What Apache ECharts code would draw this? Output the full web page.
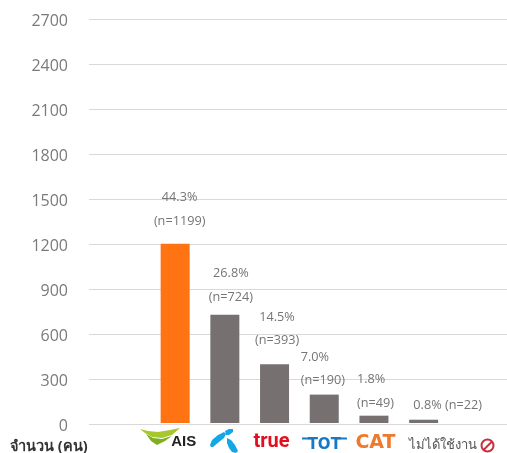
<!DOCTYPE html>
<html><head><meta charset="utf-8">
<style>html,body{margin:0;padding:0;background:#fff;overflow:hidden}#c{width:507px;height:453px}</style>
<script src="https://cdn.jsdelivr.net/npm/echarts@6/dist/echarts.min.js"></script>
</head><body><div id="c"></div>
<script>
const categories = ['', 'AIS', 'telenor', 'true', 'TOT', 'CAT', 'ไม่ได้ใช้งาน', ''];
const counts = [null, 1199, 724, 393, 190, 49, 22, null];
const percents = ['', '44.3%', '26.8%', '14.5%', '7.0%', '1.8%', '0.8%', ''];
const yMax = 2700, yStep = 300;
const axisTitle = 'จำนวน (คน)';
const labelOffsets = [null, [4.5, -5], [6, 0], [2.5, -6], [-23.5, 4], [-17, 5], [24, 3], null];
const labelAligns = [null, 'center', 'center', 'center', 'left', 'left', 'center', null];

const FONT = '"Open Sans","Noto Sans",sans-serif';
const THAI = '"Noto Sans","Noto Sans CJK SC",sans-serif';
const chart = echarts.init(document.getElementById('c'), null, {renderer: 'canvas'});

function labelFor(i) {
  if (counts[i] == null) return {show: false};
  const oneLine = i === 6;
  return {
    show: true, position: 'top', offset: labelOffsets[i], align: labelAligns[i],
    color: '#757575', fontSize: 12.7, fontFamily: FONT, lineHeight: 23.5, distance: 6,
    formatter: percents[i] + (oneLine ? ' ' : '\n') + '(n=' + counts[i] + ')'
  };
}
const logoStyle = {
  ais: {color: '#222', fontWeight: 'bold', fontSize: 15, fontFamily: 'Liberation Sans', padding: [2, 0, 0, 17]},
  telenor: {color: 'rgba(0,0,0,0)', fontSize: 1},
  tru: {color: '#e01020', fontWeight: 'bold', fontSize: 20, fontFamily: 'Roboto', padding: [0, 6, 0, 0]},
  tot: {color: '#1778c4', fontWeight: 'bold', fontSize: 15, fontFamily: 'DejaVu Sans', padding: [6, 0, 0, 0]},
  cat: {color: '#ee7a30', fontWeight: 'bold', fontSize: 19, fontFamily: 'DejaVu Sans', padding: [2, 0, 0, 3]},
  thai: {color: '#555', fontSize: 13, fontFamily: THAI, padding: [7, 0, 0, 38]}
};
const logoKey = {AIS: 'ais', telenor: 'telenor', 'true': 'tru', TOT: 'tot', CAT: 'cat', 'ไม่ได้ใช้งาน': 'thai'};

chart.setOption({
  animation: false,
  backgroundColor: '#fff',
  grid: [
    {left: 89, right: 0, top: 19.5, bottom: 28.5},
    {left: 100.6, width: 397.6, top: 19.5, bottom: 28.5}
  ],
  xAxis: [
    {gridIndex: 0, type: 'category', data: categories, show: false},
    {gridIndex: 1, type: 'category', data: categories,
      axisLine: {show: false}, axisTick: {show: false},
      axisLabel: {interval: 0, margin: 9, verticalAlign: 'top', rich: logoStyle,
        formatter: v => v ? '{' + logoKey[v] + '|' + v + '}' : ''}}
  ],
  yAxis: [
    {gridIndex: 0, type: 'value', min: 0, max: yMax, interval: yStep,
      axisLine: {show: false}, axisTick: {show: false},
      axisLabel: {color: '#7a7a7a', fontSize: 16, fontFamily: FONT, margin: 21, verticalAlign: 'top', lineHeight: 4,
        formatter: v => String(v)},
      splitLine: {lineStyle: {color: '#d9d9d9', width: 1}}},
    {gridIndex: 1, type: 'value', min: 0, max: yMax, interval: yStep, show: false, splitLine: {show: false}}
  ],
  series: [{
    type: 'bar', xAxisIndex: 1, yAxisIndex: 1, barWidth: 29,
    data: counts.map((v, i) => ({
      value: v,
      itemStyle: {color: i === 1 ? '#ff7312' : '#767170'},
      label: labelFor(i)
    }))
  }],
  graphic: [
    {type: 'text', x: 10, y: 440, style: {text: axisTitle, fill: '#333', font: 'bold 14.5px ' + THAI}},
    {type: 'polygon', shape: {points: [[140,429],[148,431],[158,432],[170,430],[180,428],[172,435],[162,438],[152,437],[145,433]]}, style: {fill: '#a8c62e'}},
    {type: 'polygon', shape: {points: [[146,434],[153,438],[162,439],[172,436],[165,441],[157,445],[151,441]]}, style: {fill: '#7fae1e'}},
    {type: 'polygon', shape: {points: [[210,445],[212,440],[218,435],[224,432],[226,434],[224,438],[219,442],[213,447],[211,447]]}, style: {fill: '#12a8e8'}},
    {type: 'polygon', shape: {points: [[225,431],[229,429],[233,429],[233,432],[229,435],[226,435]]}, style: {fill: '#12a8e8'}},
    {type: 'polygon', shape: {points: [[227,438],[231,440],[235,445],[238,451],[236,453],[232,452],[229,448],[227,443]]}, style: {fill: '#12a8e8'}},
    {type: 'line', shape: {x1: 302, y1: 438.5, x2: 312, y2: 438.5}, style: {stroke: '#1778c4', lineWidth: 2}},
    {type: 'line', shape: {x1: 337, y1: 438.5, x2: 347, y2: 438.5}, style: {stroke: '#1778c4', lineWidth: 2}},
    {type: 'circle', shape: {cx: 487.5, cy: 445.5, r: 6}, style: {fill: 'none', stroke: '#c8303c', lineWidth: 2}},
    {type: 'line', shape: {x1: 484, y1: 449.5, x2: 491.5, y2: 442}, style: {stroke: '#c8303c', lineWidth: 2}}
  ]
});
</script></body></html>
